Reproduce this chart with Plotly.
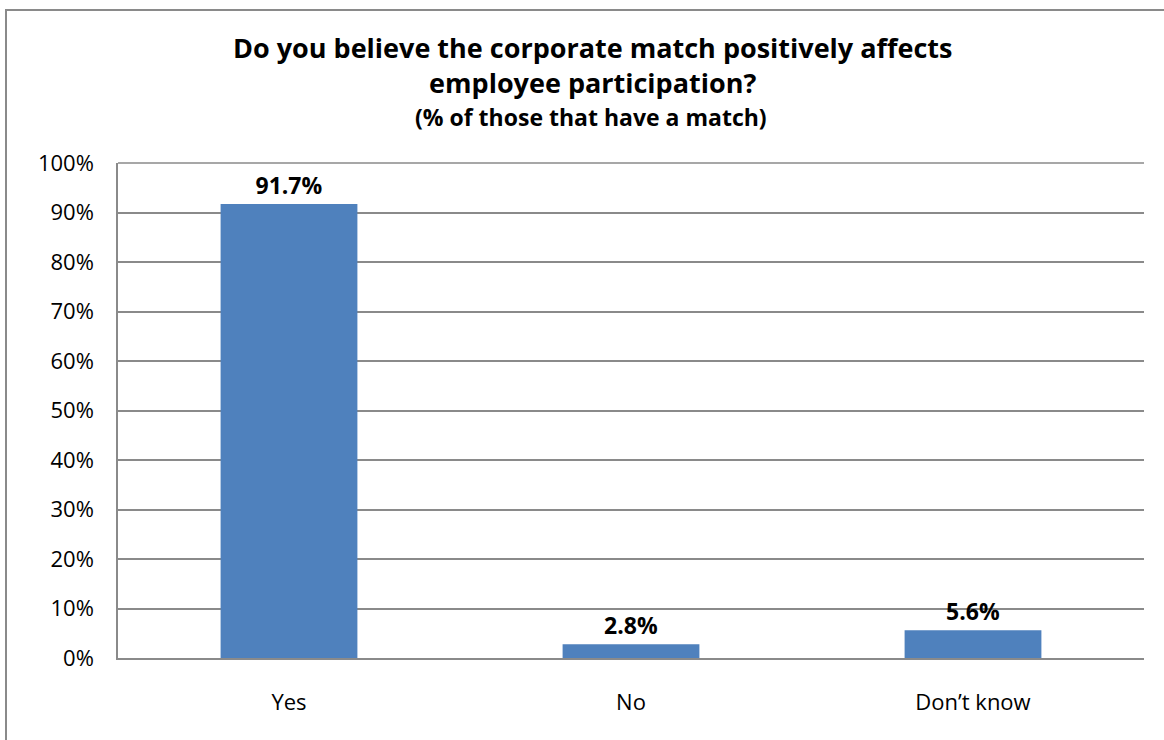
import plotly.graph_objects as go

categories = ["Yes", "No", "Don\u2019t know"]
values = [91.7, 2.8, 5.6]
y_ticks = [0, 10, 20, 30, 40, 50, 60, 70, 80, 90, 100]

W, H = 1164, 740
L, R, T, B = 118, 20, 163, 82
pw, ph = W - L - R, H - T - B

def px(x):
    return (x - L) / pw

def py(y):
    return (H - B - y) / ph

fig = go.Figure(go.Bar(
    x=categories, y=values,
    marker=dict(color="#4F81BD", line=dict(width=0)),
    texttemplate="<b>%{y:.1f}%</b>", textposition="outside",
    textfont=dict(family="Open Sans", size=23, color="#000"),
    cliponaxis=False,
))

fig.update_layout(
    width=W, height=H,
    margin=dict(l=L, r=R, t=T, b=B),
    paper_bgcolor="white", plot_bgcolor="white",
    bargap=0.6, showlegend=False,
    font=dict(family="Open Sans", color="#000"),
)
fig.update_yaxes(
    range=[0, 100], tickvals=y_ticks, ticktext=[f"{v}%" for v in y_ticks],
    showgrid=True, gridcolor="#8a8a8a", gridwidth=1.5,
    showline=True, linecolor="#8a8a8a", linewidth=1.5,
    tickfont=dict(family="Open Sans", size=22), ticks="", ticklabelstandoff=18,
    zeroline=False,
)
fig.update_xaxes(
    showline=True, linecolor="#8a8a8a", linewidth=2,
    tickfont=dict(family="Open Sans", size=22), ticks="", ticklabelstandoff=24,
)
# top border line of plot area at 100%
fig.add_shape(type="line", xref="paper", yref="paper", x0=0, x1=1, y0=1, y1=1,
              line=dict(color="#8a8a8a", width=1.5))
# chart outer border
fig.add_shape(type="rect", xref="paper", yref="paper",
              x0=px(6), x1=px(1175), y0=py(10), y1=py(750),
              line=dict(color="#8a8a8a", width=2), layer="below")

fig.add_annotation(xref="paper", yref="paper", x=px(592), y=py(65),
                   text="<b>Do you believe the corporate match positively affects<br>"
                        "employee participation?</b>",
                   showarrow=False, font=dict(family="Open Sans", size=27, color="#000"),
                   xanchor="center", yanchor="middle", align="center")
fig.add_annotation(xref="paper", yref="paper", x=px(591), y=py(117),
                   text="<b>(% of those that have a match)</b>",
                   showarrow=False, font=dict(family="Open Sans", size=23, color="#000"),
                   xanchor="center", yanchor="middle")

fig.write_html("out.html", config={"displayModeBar": False},
               post_script="document.body.style.margin='0';")
